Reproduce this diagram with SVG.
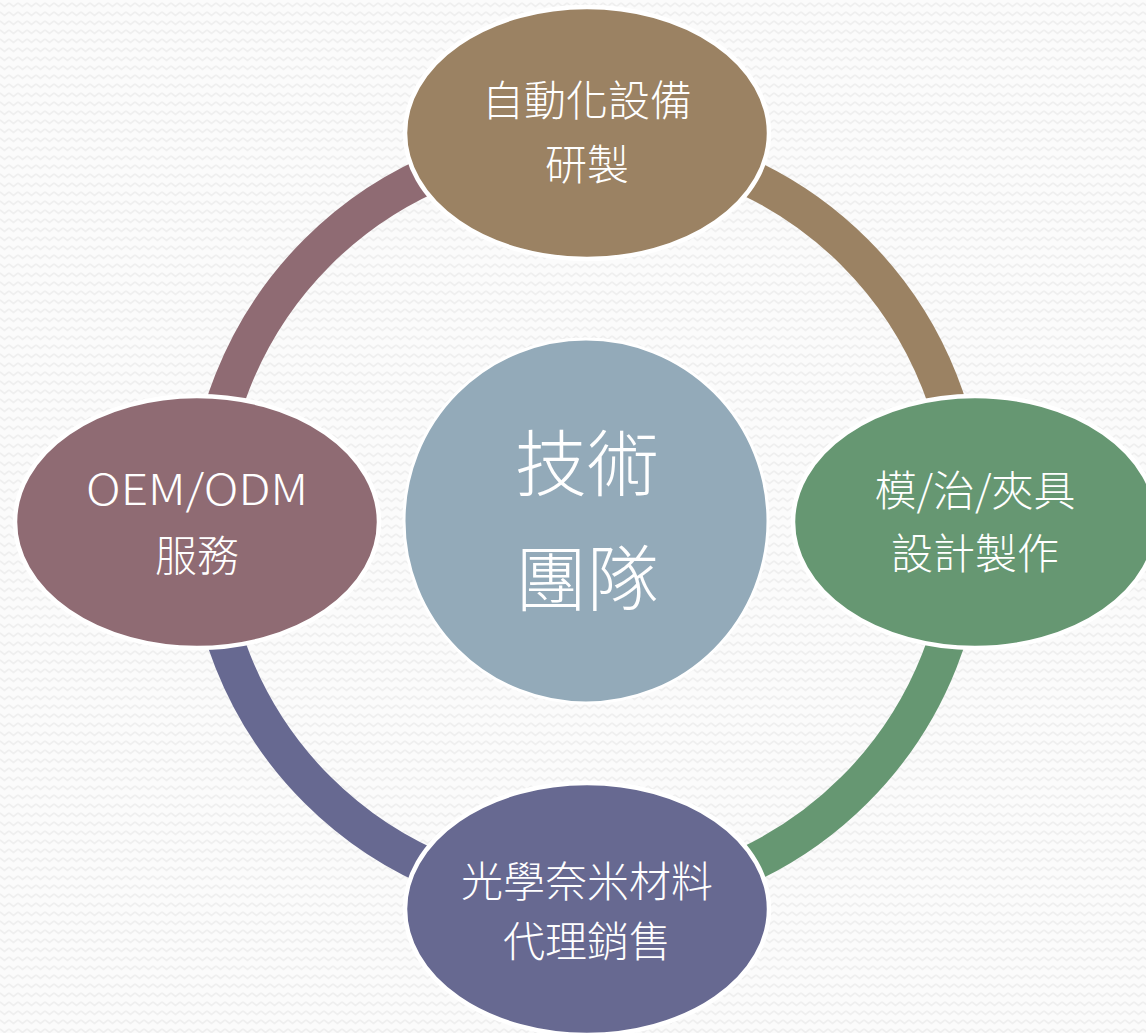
<svg xmlns="http://www.w3.org/2000/svg" width="1146" height="1033" viewBox="0 0 1146 1033">
  <defs>
    <pattern id="zig" width="9" height="9" patternUnits="userSpaceOnUse">
      <rect width="9" height="9" fill="#fbfbfb"/>
      <polyline points="0,3 4.5,6.5 9,3" fill="none" stroke="#efefef" stroke-width="1.6"/>
    </pattern>
  </defs>
  <style>
    .arc { fill: none; stroke-width: 37; }
    .node { stroke: #ffffff; stroke-width: 4.5; }
    .lbl { fill: #ffffff; font-family: "Noto Sans CJK TC", "Noto Sans", sans-serif; font-size: 42px; text-anchor: middle; font-weight: 300; }
    .big { fill: #ffffff; font-family: "Noto Sans CJK TC", "Noto Sans", sans-serif; font-size: 72px; text-anchor: middle; font-weight: 300; }
  </style>
  <rect width="1146" height="1033" fill="url(#zig)"/>

  <g id="connectors">
    <path class="arc" stroke="#9b8263" d="M586,141 A380,380 0 0 1 966,521"/>
    <path class="arc" stroke="#669772" d="M966,521 A380,380 0 0 1 586,901"/>
    <path class="arc" stroke="#676991" d="M586,901 A380,380 0 0 1 206,521"/>
    <path class="arc" stroke="#8f6b73" d="M206,521 A380,380 0 0 1 586,141"/>
  </g>

  <g id="center">
    <circle cx="586" cy="521" r="182" fill="#93aab9" stroke="#ffffff" stroke-width="3"/>
    <text class="big" x="587" y="490">技術</text>
    <text class="big" x="587" y="605">團隊</text>
  </g>

  <g id="node-top">
    <ellipse class="node" cx="587" cy="133" rx="182" ry="126" fill="#9b8263"/>
    <text class="lbl" x="587" y="116">自動化設備</text>
    <text class="lbl" x="587" y="180">研製</text>
  </g>

  <g id="node-right">
    <ellipse class="node" cx="975" cy="522" rx="182" ry="126" fill="#669772"/>
    <text class="lbl" x="975" y="506">模/治/夾具</text>
    <text class="lbl" x="975" y="569">設計製作</text>
  </g>

  <g id="node-bottom">
    <ellipse class="node" cx="587" cy="909" rx="182" ry="126" fill="#676991"/>
    <text class="lbl" x="587" y="897">光學奈米材料</text>
    <text class="lbl" x="587" y="957">代理銷售</text>
  </g>

  <g id="node-left">
    <ellipse class="node" cx="197" cy="522" rx="182" ry="126" fill="#8f6b73"/>
    <text class="lbl" x="197" y="505" textLength="222" lengthAdjust="spacingAndGlyphs">OEM/ODM</text>
    <text class="lbl" x="197" y="571">服務</text>
  </g>
</svg>
